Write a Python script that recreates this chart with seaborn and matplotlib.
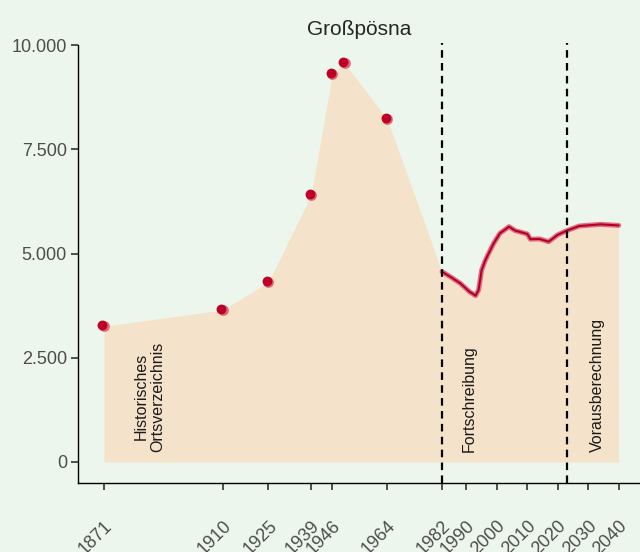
import pandas as pd
import seaborn as sns
import matplotlib
matplotlib.use('Agg')
import matplotlib.pyplot as plt
from matplotlib.transforms import offset_copy

# historic census points (Historisches Ortsverzeichnis)
hist_years = [1871, 1910, 1925, 1939, 1946, 1950, 1964]
hist_pop = [3260, 3645, 4315, 6400, 9305, 9565, 8225]

# yearly estimates / projection (Fortschreibung, Vorausberechnung)
line_years = [1982, 1985, 1988, 1991, 1993, 1994, 1995, 1996, 1997, 1999, 2001, 2004,
              2006, 2010, 2011, 2014, 2017, 2020, 2023, 2027, 2034, 2040]
line_pop = [4565, 4430, 4285, 4085, 3990, 4125, 4600, 4800, 4960, 5250, 5485, 5645,
            5550, 5470, 5345, 5350, 5285, 5450, 5550, 5660, 5700, 5675]

tick_years = [1871, 1910, 1925, 1939, 1946, 1964, 1982, 1990, 2000, 2010, 2020, 2030, 2040]
y_ticks = [0, 2500, 5000, 7500, 10000]
y_labels = ['0', '2.500', '5.000', '7.500', '10.000']
phase_lines = [1982, 2023]
phase_labels = [(1886, 'Historisches\nOrtsverzeichnis'), (1991, 'Fortschreibung'),
                (2033, 'Vorausberechnung')]

bg = '#edf6ec'
sns.set_theme(style='ticks', rc={'axes.facecolor': bg, 'figure.facecolor': bg})
plt.rcParams['font.family'] = ['Liberation Sans', 'DejaVu Sans']

hist = pd.DataFrame({'year': hist_years, 'pop': hist_pop})
cur = pd.DataFrame({'year': line_years, 'pop': line_pop})
area = pd.concat([hist, cur], ignore_index=True)

fig = plt.figure(figsize=(6.4, 5.52), dpi=100)
ax = fig.add_axes([0.122, 0.125, 0.878, 0.797])

ax.fill_between(area['year'], 0, area['pop'], color='#f5e2cb', lw=0, zorder=1)

sns.lineplot(data=cur, x='year', y='pop', ax=ax, color='#e0707f', lw=3.6, zorder=3)
sns.lineplot(data=cur, x='year', y='pop', ax=ax, color='#b3002a', lw=1.5, zorder=4)

sns.scatterplot(data=hist, x='year', y='pop', ax=ax, color='#de6a76', s=60,
                linewidth=0, zorder=5)
shift = offset_copy(ax.transData, fig=fig, x=-1.5, y=1.5, units='dots')
ax.scatter(hist['year'], hist['pop'], color='#be0027', s=50, linewidth=0,
           transform=shift, zorder=6)

for x in phase_lines:
    ax.axvline(x, color='black', lw=1.6, linestyle=(0, (3.4, 2.4)), zorder=7)

for x, txt in phase_labels:
    ax.text(x, 250, txt, rotation=90, ha='center', va='bottom', fontsize=11.5,
            color='#1a1a1a', zorder=8, linespacing=1.1)

ax.set_xlim(1862.5, 2047)
ax.set_ylim(-505, 10050)
ax.set_xticks(tick_years)
ax.set_xticklabels([str(t) for t in tick_years], rotation=45, ha='right', va='top',
                   rotation_mode='anchor', fontsize=13, color='#4d4d4d')
ax.set_yticks(y_ticks)
ax.set_yticklabels(y_labels, fontsize=13, color='#4d4d4d')
ax.tick_params(axis='x', length=5, width=1.2, pad=20, color='#333333')
ax.tick_params(axis='y', length=5, width=1.2, pad=3, color='#333333')
ax.set_xlabel('')
ax.set_ylabel('')
ax.set_title('Großpösna', fontsize=15, pad=6)
for s in ['top', 'right']:
    ax.spines[s].set_visible(False)
for s in ['left', 'bottom']:
    ax.spines[s].set_color('black')
    ax.spines[s].set_linewidth(1.0)
ax.spines['left'].set_bounds(-505, 10000)

fig.savefig('out.png', dpi=100, facecolor=bg)
